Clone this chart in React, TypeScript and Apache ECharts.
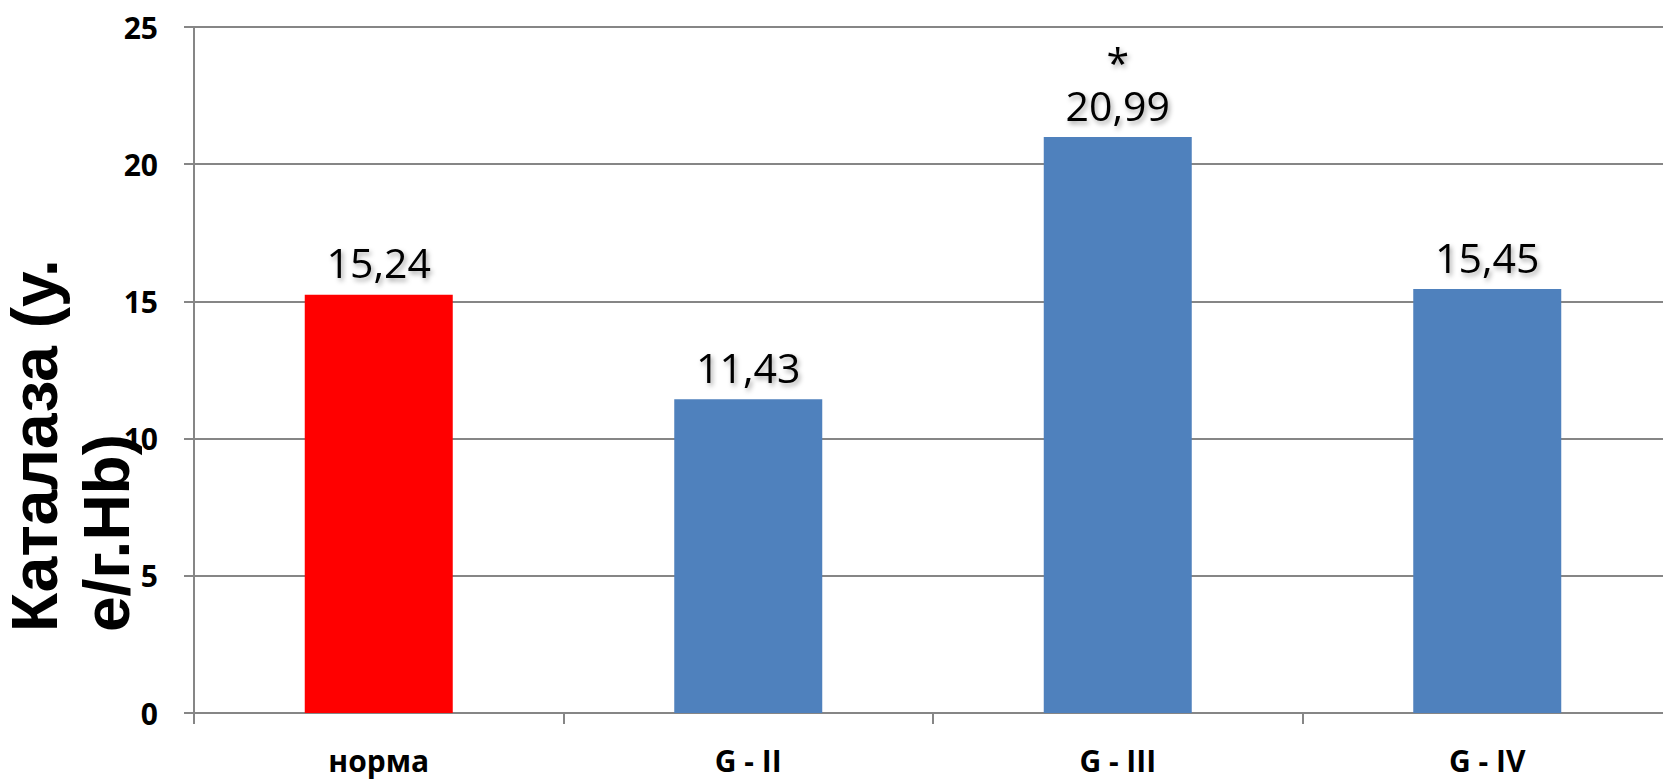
import React, { useEffect, useRef } from "react";
import * as echarts from "echarts";

// Catalase activity per group
const categories = ["норма", "G - II", "G - III", "G - IV"];
const values = [15.24, 11.43, 20.99, 15.45];
const barColors = ["#FF0000", "#4F81BD", "#4F81BD", "#4F81BD"];
const notes = ["", "", "*", ""];

const yMin = 0;
const yMax = 25;
const yStep = 5;

const axisTitleLines = ["Каталаза (у.", "е/г.Hb)"];

const AXIS_GRAY = "#868686";

const formatValue = (v: number) => v.toFixed(2).replace(".", ",");

const labelShadow = {
  textShadowColor: "rgba(0,0,0,0.35)",
  textShadowBlur: 5,
  textShadowOffsetX: 2,
  textShadowOffsetY: 3,
};

export default function App() {
  const ref = useRef<HTMLDivElement>(null);

  useEffect(() => {
    if (!ref.current) return;
    const chart = echarts.init(ref.current, undefined, { renderer: "svg" });

    const seriesData = values.map((v, i) => ({
      value: v,
      itemStyle: { color: barColors[i] },
      note: notes[i],
    }));

    chart.setOption({
      animation: false,
      backgroundColor: "#ffffff",
      // the plot runs a little past the right edge of the visible frame
      grid: { left: 194, top: 27, bottom: 67, width: 1478, containLabel: false },
      xAxis: {
        type: "category",
        data: categories,
        boundaryGap: true,
        axisLine: { show: true, lineStyle: { color: AXIS_GRAY, width: 2 } },
        axisTick: { show: true, length: 11, inside: false, lineStyle: { color: AXIS_GRAY, width: 2 } },
        axisLabel: {
          margin: 32,
          color: "#000",
          fontFamily: "Open Sans",
          fontWeight: "bold",
          fontSize: 30,
        },
      },
      yAxis: {
        type: "value",
        min: yMin,
        max: yMax,
        interval: yStep,
        axisLine: { show: true, lineStyle: { color: AXIS_GRAY, width: 2 } },
        axisTick: { show: true, length: 10, inside: false, lineStyle: { color: AXIS_GRAY, width: 2 } },
        splitLine: { show: true, lineStyle: { color: AXIS_GRAY, width: 2 } },
        axisLabel: {
          margin: 36,
          color: "#000",
          fontFamily: "Open Sans",
          fontWeight: "bold",
          fontSize: 30,
        },
      },
      graphic: [
        {
          type: "text",
          x: 71,
          y: 632,
          rotation: Math.PI / 2,
          style: {
            text: axisTitleLines.join("\n"),
            fontFamily: "Liberation Sans",
            fontWeight: "bold",
            fontSize: 64,
            lineHeight: 72,
            fill: "#000",
            textAlign: "left",
            textVerticalAlign: "middle",
          },
          z: 10,
        },
      ],
      series: [
        {
          type: "bar",
          data: seriesData,
          barWidth: 148,
          label: {
            show: true,
            position: "top",
            distance: 12,
            formatter: (p: any) => {
              const txt = `{v|${formatValue(p.value)}}`;
              return p.data.note ? `{s|${p.data.note}}\n${txt}` : txt;
            },
            rich: {
              v: {
                fontFamily: "Open Sans",
                fontSize: 41,
                lineHeight: 41,
                color: "#000",
                ...labelShadow,
              },
              s: {
                fontFamily: "Open Sans",
                fontSize: 41,
                lineHeight: 45,
                color: "#000",
                ...labelShadow,
              },
            },
          },
        },
      ],
    });

    return () => chart.dispose();
  }, []);

  return (
    <div style={{ position: "absolute", left: 0, top: 0, width: 1663, height: 780, overflow: "hidden" }}>
      <div ref={ref} style={{ width: 1680, height: 780 }} />
    </div>
  );
}
